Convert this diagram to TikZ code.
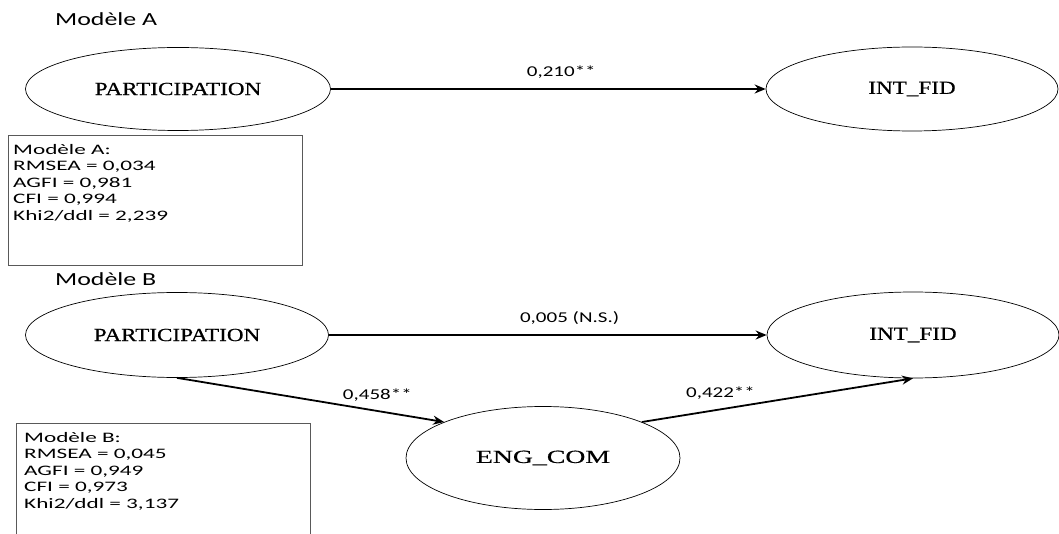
\documentclass[tikz,border=0pt]{standalone}
\usepackage{fontspec}
\newfontfamily\lblfont[FakeStretch=1.4]{Carlito}
\newfontfamily\statfont[FakeStretch=1.6]{Carlito}
\newfontfamily\varfont[FakeStretch=1.25,FakeBold=0.6]{Liberation Serif}
\newfontfamily\engfont[FakeStretch=1.5,FakeBold=0.6]{Liberation Serif}
\usetikzlibrary{positioning}
\usetikzlibrary{shapes.geometric}
\usetikzlibrary{arrows.meta}

\begin{document}
\begin{tikzpicture}[x=1pt,y=-1pt,
		latent/.style={ellipse,draw,line width=.7pt,inner sep=0pt,font=\varfont\fontsize{18.5}{20}\selectfont},
		effect/.style={line width=1.8pt,-{Stealth[length=11pt,width=9pt]}},
		fitbox/.style={draw=black!65,line width=.7pt,inner sep=0pt},
		stats/.style={align=left,inner sep=0pt,font=\statfont\fontsize{14.5}{16.5}\selectfont},
		coef/.style={inner sep=0pt,font=\lblfont\fontsize{15}{17}\selectfont},
		model/.style={anchor=west,inner sep=0pt,font=\lblfont\fontsize{18.5}{20}\selectfont}]
	\useasboundingbox (0,0) rectangle (1059,534);
	% Modele A
	\node[model] (titA) at (55,19) {Modèle A};
	\node[latent,minimum width=305pt,minimum height=83pt] (partA) at (178,89) {PARTICIPATION};
	\node[latent,minimum width=292pt,minimum height=84pt] (fidA) at (912,89) {INT\_FID};
	\draw[effect] (partA) -- node[coef,above=10pt,pos=.53] {0,210**} (fidA);
	\node[fitbox,anchor=north west,minimum width=294pt,minimum height=130pt] (boxA) at (8,135) {};
	\node[stats,anchor=north west] (statsA) at (13,144) {Modèle A:\\RMSEA = 0,034\\AGFI = 0,981\\CFI = 0,994\\Khi2/ddl = 2,239};
	% Modele B
	\node[model] (titB) at (55,279) {Modèle B};
	\node[latent,minimum width=303pt,minimum height=85pt] (partB) at (177,335) {PARTICIPATION};
	\node[latent,minimum width=292pt,minimum height=86pt] (fidB) at (913,335) {INT\_FID};
	\node[latent,font=\engfont\fontsize{18.5}{20}\selectfont,minimum width=274pt,minimum height=103pt] (eng) at (543,458) {ENG\_COM};
	\draw[effect] (partB) -- node[coef,above=10pt,pos=.55] {0,005 (N.S.)} (fidB);
	\draw[effect] (partB.south) -- node[coef,above=9pt,pos=.75] {0,458**} (eng.160);
	\draw[effect] (eng.20) -- node[coef,above=9pt,pos=.29] {0,422**} (fidB.south);
	\node[fitbox,anchor=north west,minimum width=294pt,minimum height=140pt] (boxB) at (16,423) {};
	\node[stats,anchor=north west] (statsB) at (24,432) {Modèle B:\\RMSEA = 0,045\\AGFI = 0,949\\CFI = 0,973\\Khi2/ddl = 3,137};
\end{tikzpicture}
\end{document}
